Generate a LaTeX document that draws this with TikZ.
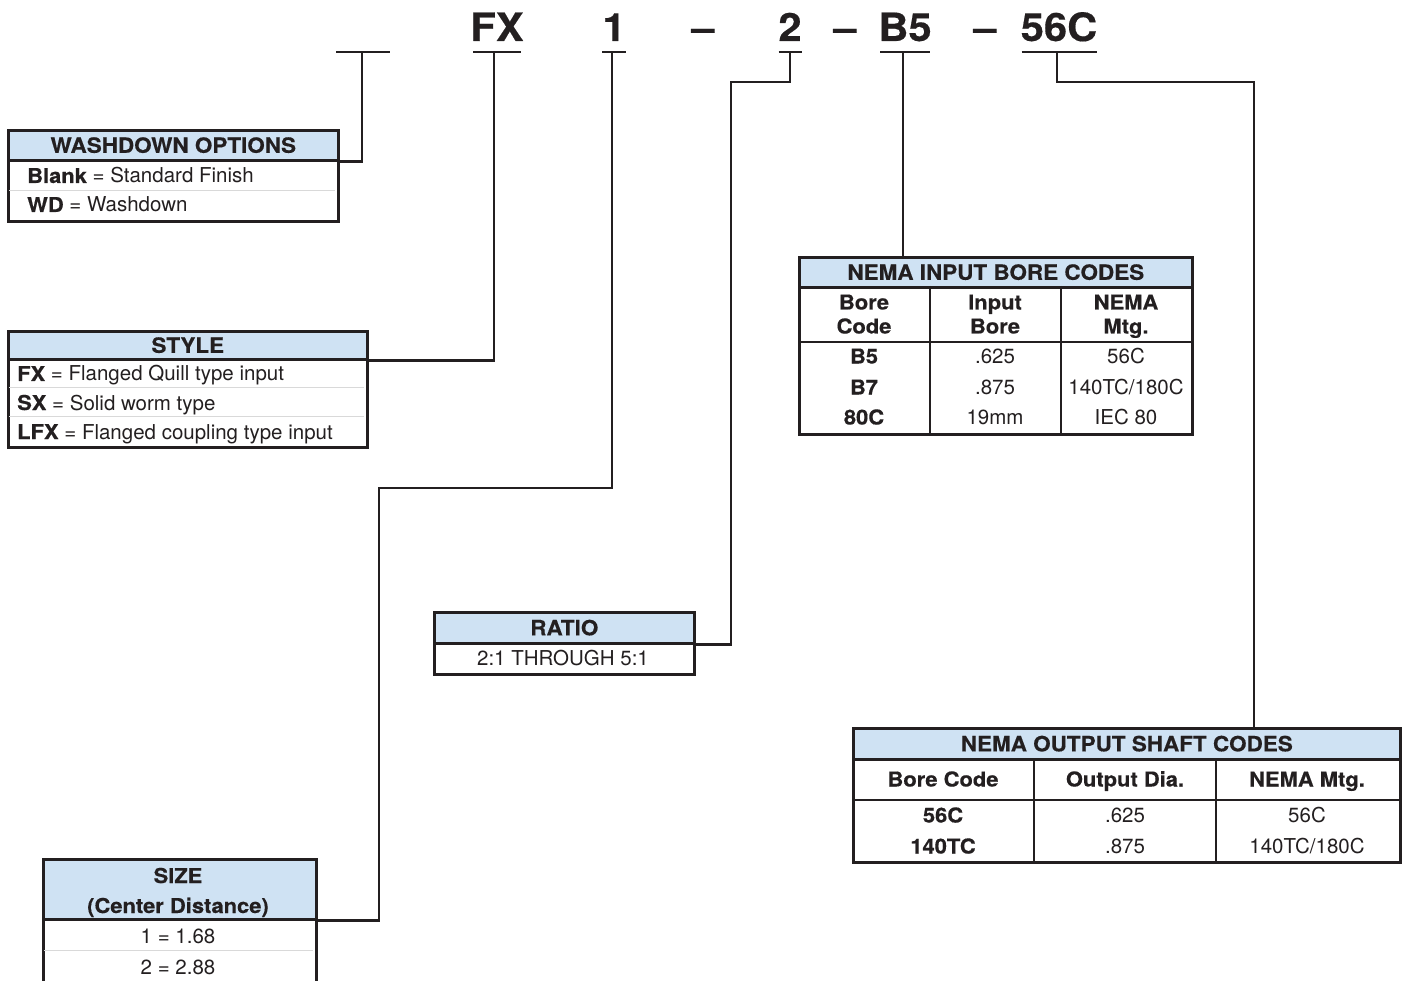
\documentclass[tikz,border=0pt]{standalone}
\usepackage{fontspec}
\setmainfont{TeX Gyre Heros}[BoldFeatures={FakeStretch=1.07, FakeBold=0.4}]
\usetikzlibrary{positioning}
\definecolor{hdrblue}{RGB}{207,226,243}
\definecolor{ink}{RGB}{35,31,32}
\tikzset{
  conn/.style={draw=ink, line width=2.4pt},
  hdr/.style={draw=ink, line width=2.6pt, fill=hdrblue, anchor=north west, inner sep=0pt,
    text=ink, font=\bfseries\fontsize{21}{24}\selectfont, text height=15pt, text depth=0pt},
  bodybox/.style={draw=ink, line width=2.6pt, anchor=north west, inner sep=0pt},
  cellline/.style={draw=ink, line width=2.2pt},
  rowline/.style={draw=black!15, line width=0.6pt},
  txt/.style={text=ink, inner sep=0pt, anchor=base, font=\fontsize{20.5}{24}\selectfont},
  boldtxt/.style={txt, font=\bfseries\fontsize{20.5}{24}\selectfont},
  code/.style={text=ink, inner sep=0pt, anchor=base, font=\bfseries\fontsize{39}{44}\selectfont},
}
\begin{document}
\begin{tikzpicture}[x=1pt, y=-1pt]
    \useasboundingbox (0,0) rectangle (1405,981);

    % Part number codes
    \foreach \nm/\x/\w/\s/\txt in {Wash/363/54/362/{}, Style/497/48/494/FX, Size/614/24/612/1,
        Ratio/790/23/790/2, Bore/905/50/903/B5, Shaft/1059/75/1057/56C} {
        \node[code] (code\nm) at (\x,41) {\txt};
        \draw[conn] (\x-\w/2,52) -- (\x+\w/2,52);
        \coordinate (stem\nm) at (\s,52);
    }
    \foreach \i/\x in {1/703, 2/845, 3/985} {
        \node[code] (dash\i) at (\x,41) {--};
    }

    % Washdown options
    \node[bodybox, minimum width=330pt, minimum height=61pt] (washBody) at (7,159) {};
    \node[hdr, minimum width=330pt, minimum height=30pt] (washHead) at (7,129) {WASHDOWN OPTIONS};
    \draw[rowline] (9,190) -- (335,190);
    \node[txt, anchor=base west] (wash1) at (27,183) {\textbf{Blank} = Standard Finish};
    \node[txt, anchor=base west] (wash2) at (27,212) {\textbf{WD} = Washdown};

    % Style
    \node[bodybox, minimum width=359pt, minimum height=88pt] (styleBody) at (7,358) {};
    \node[hdr, minimum width=359pt, minimum height=28pt] (styleHead) at (7,330) {STYLE};
    \foreach \y in {387, 416} {
        \draw[rowline] (9,\y) -- (364,\y);
    }
    \node[txt, anchor=base west] (style1) at (17,381) {\textbf{FX} = Flanged Quill type input};
    \node[txt, anchor=base west] (style2) at (17,410) {\textbf{SX} = Solid worm type};
    \node[txt, anchor=base west] (style3) at (17,439) {\textbf{LFX} = Flanged coupling type input};

    % Size
    \node[bodybox, minimum width=273pt, minimum height=80pt] (sizeBody) at (42,918) {};
    \node[hdr, minimum width=273pt, minimum height=60pt] (sizeHead) at (42,858) {};
    \node[boldtxt] (sizeT1) at (178,883) {SIZE};
    \node[boldtxt] (sizeT2) at (178,913) {(Center Distance)};
    \draw[rowline] (44,950) -- (313,950);
    \node[txt] (size1) at (178,943) {1 = 1.68};
    \node[txt] (size2) at (178,974) {2 = 2.88};

    % Ratio
    \node[bodybox, minimum width=260pt, minimum height=31pt] (ratioBody) at (433,642) {};
    \node[hdr, minimum width=260pt, minimum height=31pt] (ratioHead) at (433,611) {RATIO};
    \node[txt] (ratio1) at (563,665) {2:1 THROUGH 5:1};

    % NEMA input bore codes
    \node[bodybox, minimum width=393pt, minimum height=147pt] (boreBody) at (798,286) {};
    \node[hdr, minimum width=393pt, minimum height=30pt] (boreHead) at (798,256) {NEMA INPUT BORE CODES};
    \draw[cellline] (798,342) -- (1191,342);
    \foreach \x in {930, 1061} {
        \draw[cellline] (\x,286) -- (\x,433);
    }
    \foreach \i/\x/\a/\b in {1/864/Bore/Code, 2/995/Input/Bore, 3/1126/NEMA/Mtg.} {
        \node[boldtxt] (boreTop\i) at (\x,309.5) {\a};
        \node[boldtxt] (boreBot\i) at (\x,333.5) {\b};
    }
    \foreach \i/\y/\a/\b/\c in {1/363.5/B5/.625/56C, 2/394.5/B7/.875/140TC\slash 180C, 3/424.5/80C/19mm/IEC 80} {
        \node[boldtxt] (boreA\i) at (864,\y) {\a};
        \node[txt] (boreB\i) at (995,\y) {\b};
        \node[txt] (boreC\i) at (1126,\y) {\c};
    }

    % NEMA output shaft codes
    \node[bodybox, minimum width=547pt, minimum height=103pt] (shaftBody) at (852,758) {};
    \node[hdr, minimum width=547pt, minimum height=31pt] (shaftHead) at (852,727) {NEMA OUTPUT SHAFT CODES};
    \draw[cellline] (852,800) -- (1399,800);
    \foreach \x in {1034, 1216} {
        \draw[cellline] (\x,758) -- (\x,861);
    }
    \foreach \i/\x/\a in {1/943/Bore Code, 2/1125/Output Dia., 3/1307/NEMA Mtg.} {
        \node[boldtxt] (shaftTop\i) at (\x,786.5) {\a};
    }
    \foreach \i/\y/\a/\b/\c in {1/822.5/56C/.625/56C, 2/853.5/140TC/.875/140TC\slash 180C} {
        \node[boldtxt] (shaftA\i) at (943,\y) {\a};
        \node[txt] (shaftB\i) at (1125,\y) {\b};
        \node[txt] (shaftC\i) at (1307,\y) {\c};
    }

    % Connectors
    \coordinate (sizeKnee) at (379,488);
    \coordinate (ratioKnee) at (731,82);
    \coordinate (shaftKnee) at (1254,82);
    \draw[conn] (stemWash) |- (washHead.south east);
    \draw[conn] (stemStyle) |- (styleHead.south east);
    \draw[conn] (stemSize) |- (sizeKnee) |- (sizeHead.south east);
    \draw[conn] (stemRatio) |- (ratioKnee) |- (ratioHead.south east);
    \draw[conn] (stemBore) -- (stemBore |- boreHead.north);
    \draw[conn] (stemShaft) |- (shaftKnee) -- (shaftKnee |- shaftHead.north);
\end{tikzpicture}
\end{document}
